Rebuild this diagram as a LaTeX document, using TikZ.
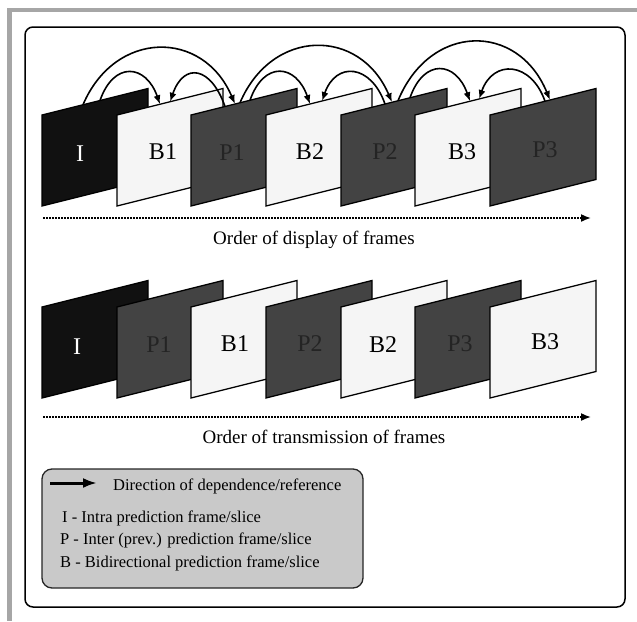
\documentclass[tikz,border=0pt]{standalone}
\usepackage{fontspec}
\setmainfont{Liberation Serif}
\usetikzlibrary{arrows.meta,calc}

\definecolor{iframe}{HTML}{111111}
\definecolor{pframe}{HTML}{434343}
\definecolor{bframe}{HTML}{F5F5F5}
\definecolor{plabel}{HTML}{242424}
\definecolor{legendfill}{HTML}{C9C9C9}
\definecolor{outerband}{HTML}{A6A6A6}

% name, left x, top y, fill, label colour, label, label offset
\newcommand\vidframe[7]{%
  \coordinate (#1) at (#2,#3);
  \draw[frm,fill=#4] (#1) -- ++(106,-26.5) -- ++(0,91) -- ++(-106,26.5) -- cycle;
  \node[lbl,text=#5] (#1-l) at ($(#1)+(#7,{48-0.25*#7})$) {#6};}

\begin{document}
\begin{tikzpicture}[
  x=1pt,y=-1pt,
  >=Latex,
  frm/.style={draw,line width=1.3pt},
  lbl/.style={font=\fontsize{24}{26}\selectfont,inner sep=0pt},
  dep/.style={-{Latex[length=9pt,width=7pt]},line width=1.6pt},
  order/.style={-{Latex[length=10pt,width=8pt]},line width=1.6pt,
    dash pattern=on 1.6pt off 1.4pt},
  caption/.style={font=\fontsize{19}{22}\selectfont,inner sep=0pt},
  legendbox/.style={draw=black!85,line width=1.3pt,rounded corners=10pt,
    fill=legendfill,minimum width=321pt,minimum height=119pt,inner sep=0pt},
  legendtext/.style={font=\fontsize{16.5}{18}\selectfont,anchor=west,inner sep=0pt}
]
  \useasboundingbox[fill=white] (0,0) rectangle (637,621);
  \fill[outerband] (7,8) rectangle (637,12);
  \fill[outerband] (7,8) rectangle (12,621);
  \draw[line width=1.5pt,rounded corners=8pt,fill=white] (25,27) rectangle (625,607);

  % display order
  \vidframe{dI}{42}{115}{iframe}{white}{I}{38}
  \vidframe{dB1}{117}{115}{bframe}{black}{B1}{46}
  \vidframe{dP1}{191}{115}{pframe}{plabel}{P1}{41}
  \vidframe{dB2}{266}{115}{bframe}{black}{B2}{44}
  \vidframe{dP2}{341}{115}{pframe}{plabel}{P2}{44}
  \vidframe{dB3}{415}{115}{bframe}{black}{B3}{47}
  \vidframe{dP3}{490}{115}{pframe}{plabel}{P3}{55}

  \draw[dep] ($(dI)+(41,-10.25)$) .. controls +(32,-75) and +(-32,-75) .. ($(dP1)+(44,-11)$);
  \draw[dep] ($(dI)+(58,-14.5)$) .. controls +(14,-40) and +(-14,-40) .. ($(dB1)+(43,-10.75)$);
  \draw[dep] ($(dP1)+(34,-8.5)$) .. controls +(-14,-40) and +(14,-40) .. ($(dB1)+(53,-13.25)$);
  \draw[dep] ($(dP1)+(49,-12.25)$) .. controls +(32,-75) and +(-32,-75) .. ($(dP2)+(51,-12.75)$);
  \draw[dep] ($(dP1)+(59,-14.75)$) .. controls +(14,-40) and +(-14,-40) .. ($(dB2)+(44,-11)$);
  \draw[dep] ($(dP2)+(44,-11)$) .. controls +(-14,-40) and +(14,-40) .. ($(dB2)+(56,-14)$);
  \draw[dep] ($(dP2)+(57,-14.25)$) .. controls +(32,-78) and +(-32,-78) .. ($(dP3)+(60,-15)$);
  \draw[dep] ($(dP2)+(69,-17.25)$) .. controls +(14,-40) and +(-14,-40) .. ($(dB3)+(55,-13.75)$);
  \draw[dep] ($(dP3)+(55,-13.75)$) .. controls +(-14,-40) and +(14,-40) .. ($(dB3)+(64,-16)$);

  \coordinate (ds) at (43,218);
  \coordinate (de) at (591,218);
  \draw[order] (ds) -- (de);
  \node[caption] (dcap) at (314,240) {Order of display of frames};

  % transmission order
  \vidframe{tI}{42}{307}{iframe}{white}{I}{35}
  \vidframe{tP1}{117}{307}{pframe}{plabel}{P1}{42}
  \vidframe{tB1}{191}{307}{bframe}{black}{B1}{44}
  \vidframe{tP2}{266}{307}{pframe}{plabel}{P2}{44}
  \vidframe{tB2}{341}{307}{bframe}{black}{B2}{42}
  \vidframe{tP3}{415}{307}{pframe}{plabel}{P3}{45}
  \vidframe{tB3}{490}{307}{bframe}{black}{B3}{55}

  \coordinate (ts) at (43,417);
  \coordinate (te) at (591,417);
  \draw[order] (ts) -- (te);
  \node[caption] (tcap) at (324,437) {Order of transmission of frames};

  % legend
  \node[legendbox] (legend) at (202.5,528.5) {};
  \coordinate (la) at (50,483);
  \coordinate (lb) at (97,483);
  \draw[-{Latex[length=14pt,width=10pt]},line width=3pt] (la) -- (lb);
  \node[legendtext] (ldir) at (113,486) {Direction of dependence/reference};
  \node[legendtext] (lI) at (62,518) {I - Intra prediction frame/slice};
  \node[legendtext] (lP) at (60,540) {P - Inter (prev.) prediction frame/slice};
  \node[legendtext] (lB) at (60,563) {B - Bidirectional prediction frame/slice};
\end{tikzpicture}
\end{document}
